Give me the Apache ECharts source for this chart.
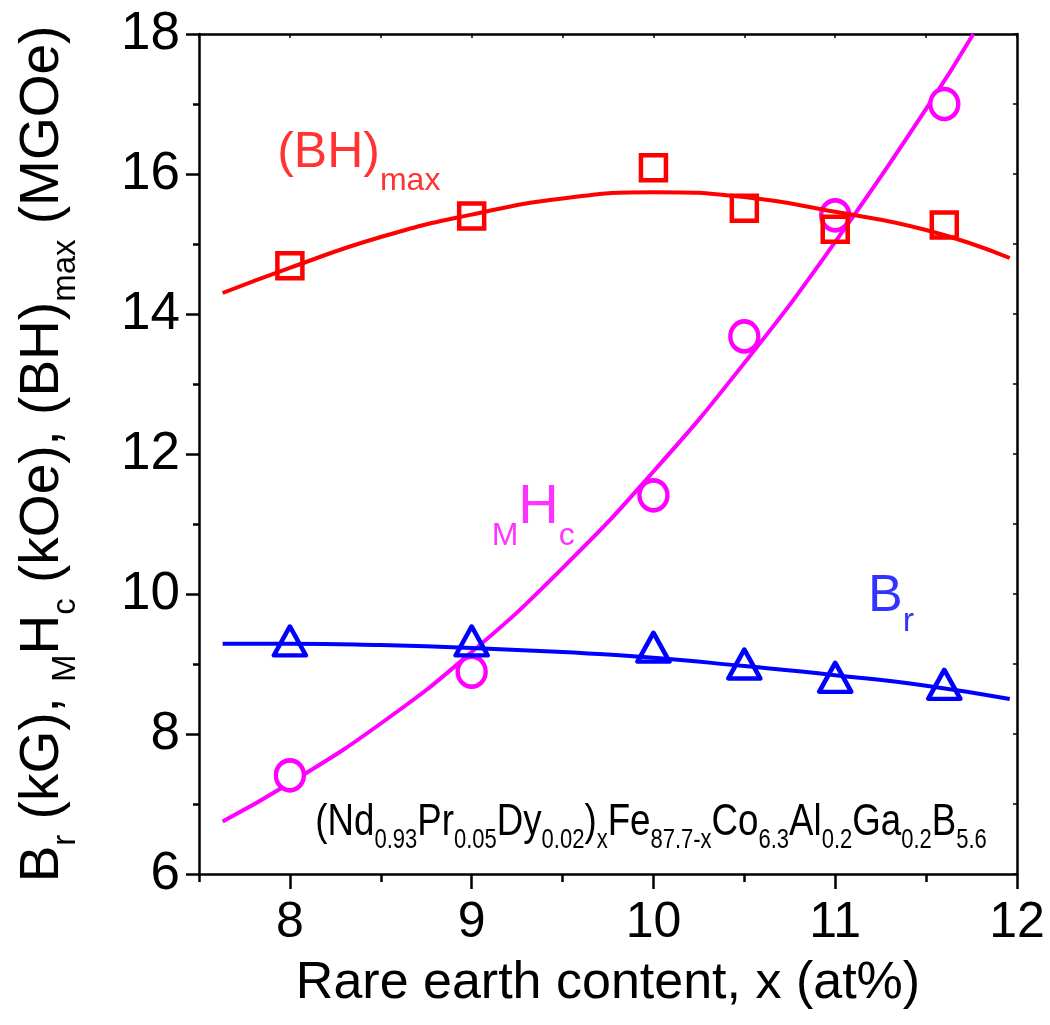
<!DOCTYPE html>
<html>
<head>
<meta charset="utf-8">
<script src="https://cdn.jsdelivr.net/npm/echarts@6/dist/echarts.min.js"></script>
<style>
html,body{margin:0;padding:0;background:#fff;}
#chart{width:1050px;height:1025px;}
</style>
</head>
<body>
<div id="chart"></div>
<script>
// ---------- data ----------
const xPoints = [8, 9, 10, 10.5, 11, 11.6];
const bhMax = [14.69, 15.40, 16.09, 15.51, 15.21, 15.27];
const mHc = [7.41, 8.89, 11.41, 13.68, 15.41, 17.00];
const bR = [9.33, 9.33, 9.24, 9.00, 8.81, 8.71];

const bhFitX = [7.63, 8, 8.5, 9, 9.5, 10, 10.5, 11, 11.5, 11.96];
const bhFitY = [14.30, 14.66, 15.10, 15.42, 15.65, 15.74, 15.67, 15.46, 15.20, 14.80];
const hcFitX = [7.63, 8, 8.5, 9, 9.5, 10, 10.5, 11, 11.5, 11.76];
const hcFitY = [6.75, 7.30, 8.15, 9.17, 10.37, 11.75, 13.30, 15.03, 16.93, 18.00];
const brFitX = [7.63, 8, 8.5, 9, 9.5, 10, 10.5, 11, 11.5, 11.96];
const brFitY = [9.29, 9.29, 9.27, 9.23, 9.17, 9.09, 8.97, 8.84, 8.69, 8.50];

const xMajorTicks = [8, 9, 10, 11, 12];
const xMinorTicks = [7.5, 8.5, 9.5, 10.5, 11.5];
const yMajorTicks = [6, 8, 10, 12, 14, 16, 18];
const yMinorTicks = [7, 9, 11, 13, 15, 17];

const xTitle = 'Rare earth content, x (at%)';
const yTitle = '{m|B}{s|r}{m| (kG), }{s|M}{m|H}{s|c}{m| (kOe), (BH)}{s|max}{m| (MGOe)}';
const bhLabel = '{m|(BH)}{s|max}';
const hcLabel = '{s|M}{m|H}{s|c}';
const brLabel = '{m|B}{s|r}';
const formulaLabel = '{m|(Nd}{s|0.93}{m|Pr}{s|0.05}{m|Dy}{s|0.02}{m|)}{s|x}{m|Fe}{s|87.7-x}{m|Co}{s|6.3}{m|Al}{s|0.2}{m|Ga}{s|0.2}{m|B}{s|5.6}';

// annotation anchors (data coordinates)
const bhLabelPos = [7.93, 16.3];
const hcLabelPos = [9.11, 11.23];
const brLabelPos = [11.18, 9.96];
const formulaPos = [8.14, 6.74];

// ---------- styling helpers ----------
const FONT = 'Liberation Sans, Arial, sans-serif';
function makeRich(mainSize, subSize, d, color, family) {
  const L = 2 * d + subSize;
  return {
    m: {fontSize: mainSize, lineHeight: L, verticalAlign: 'middle', color: color, fill: color, fontFamily: family},
    s: {fontSize: subSize, lineHeight: subSize, verticalAlign: 'bottom', color: color, fill: color, fontFamily: family}
  };
}
const zip = (a, b) => a.map((v, i) => [v, b[i]]);

const ellipsePath = 'path://M0,-10A7,10 0 1 1 0,10A7,10 0 1 1 0,-10Z';

const AX = {color: '#000', width: 2.5};

function annot(pos, text, rich, color) {
  return {
    type: 'scatter', data: [pos], symbolSize: 0, silent: true, z: 10,
    label: {show: true, position: 'right', distance: 0, color: color, formatter: text, rich: rich}
  };
}

const yRich = makeRich(55, 33, 22.5, '#000', FONT);

const option = {
  animation: false,
  backgroundColor: '#fff',
  grid: {left: 199, right: 33, top: 34, bottom: 151, containLabel: false, outerBoundsMode: 'none'},
  xAxis: [
    {
      type: 'value', min: 7.5, max: 12, position: 'bottom',
      axisLine: {show: true, onZero: false, lineStyle: AX},
      axisTick: {show: true, inside: false, length: 15, customValues: xMajorTicks, lineStyle: AX},
      axisLabel: {show: true, customValues: xMajorTicks, margin: 24, fontSize: 50, color: '#000', fontFamily: FONT},
      splitLine: {show: false},
      name: xTitle, nameLocation: 'middle', nameGap: 84,
      nameTextStyle: {fontSize: 52, color: '#000', fontFamily: FONT}
    },
    {
      type: 'value', min: 7.5, max: 12, position: 'bottom',
      axisLine: {show: false, onZero: false},
      axisTick: {show: true, inside: false, length: 8, customValues: xMinorTicks, lineStyle: AX},
      axisLabel: {show: false}, splitLine: {show: false}
    },
    {
      type: 'value', min: 7.5, max: 12, interval: 0.5, position: 'top',
      axisLine: {show: true, onZero: false, lineStyle: AX},
      axisTick: {show: true, inside: true, length: 4, lineStyle: {color: '#000', width: 1.5}},
      axisLabel: {show: false}, splitLine: {show: false}
    }
  ],
  yAxis: [
    {
      type: 'value', min: 6, max: 18, position: 'left',
      axisLine: {show: true, onZero: false, lineStyle: AX},
      axisTick: {show: true, inside: false, length: 13, customValues: yMajorTicks, lineStyle: AX},
      axisLabel: {show: true, customValues: yMajorTicks, margin: 19, fontSize: 53, color: '#000', fontFamily: FONT},
      splitLine: {show: false},
      name: yTitle, nameLocation: 'middle', nameGap: 117, nameRotate: 90,
      nameTextStyle: {fontSize: 55, color: '#000', fontFamily: FONT, rich: yRich}
    },
    {
      type: 'value', min: 6, max: 18, position: 'left',
      axisLine: {show: false, onZero: false},
      axisTick: {show: true, inside: false, length: 6, customValues: yMinorTicks, lineStyle: AX},
      axisLabel: {show: false}, splitLine: {show: false}
    },
    {
      type: 'value', min: 6, max: 18, interval: 1, position: 'right',
      axisLine: {show: true, onZero: false, lineStyle: AX},
      axisTick: {show: true, inside: true, length: 4, lineStyle: {color: '#000', width: 1.5}},
      axisLabel: {show: false}, splitLine: {show: false}
    }
  ],
  series: [
    {
      type: 'line', data: zip(hcFitX, hcFitY), smooth: true, showSymbol: false, silent: true, z: 2,
      lineStyle: {color: '#ff00ff', width: 4}
    },
    {
      type: 'scatter', data: zip(xPoints, mHc), symbol: ellipsePath, symbolSize: [28, 30], z: 3,
      itemStyle: {color: '#fff', borderColor: '#ff00ff', borderWidth: 4.5, opacity: 1}
    },
    {
      type: 'line', data: zip(bhFitX, bhFitY), smooth: true, showSymbol: false, silent: true, z: 4,
      lineStyle: {color: '#ff0000', width: 4}
    },
    {
      type: 'scatter', data: zip(xPoints, bhMax), symbol: 'rect', symbolSize: 25, z: 5,
      itemStyle: {color: 'rgba(255,255,255,0)', borderColor: '#ff0000', borderWidth: 4.5, opacity: 1}
    },
    {
      type: 'line', data: zip(brFitX, brFitY), smooth: true, showSymbol: false, silent: true, z: 4,
      lineStyle: {color: '#0000ff', width: 4}
    },
    {
      type: 'scatter', data: zip(xPoints, bR), symbol: 'triangle', symbolSize: [32, 29], z: 5,
      itemStyle: {color: 'rgba(255,255,255,0)', borderColor: '#0000ff', borderWidth: 4.5, borderJoin: 'round', opacity: 1}
    },
    annot(bhLabelPos, bhLabel, makeRich(50, 32, 28, '#ff0000', FONT), '#ff0000'),
    annot(hcLabelPos, hcLabel, makeRich(56, 32, 28.5, '#ff00ff', FONT), '#ff00ff'),
    annot(brLabelPos, brLabel, makeRich(52, 34, 25, '#0000ff', FONT), '#0000ff')
  ]
};

const chart = echarts.init(document.getElementById('chart'), null, {renderer: 'canvas'});
chart.setOption(option);

// composition formula: narrow (condensed) text, anchored at a data coordinate
const fp = chart.convertToPixel({xAxisIndex: 0, yAxisIndex: 0}, formulaPos);
chart.setOption({
  graphic: [{
    type: 'text', x: fp[0], y: fp[1], scaleX: 0.815, z: 20, silent: true,
    style: {
      text: formulaLabel, align: 'left', verticalAlign: 'middle', fill: '#000',
      fontSize: 45, fontFamily: FONT,
      rich: makeRich(45, 27, 18.6, '#000', FONT)
    }
  }]
});
</script>
</body>
</html>
